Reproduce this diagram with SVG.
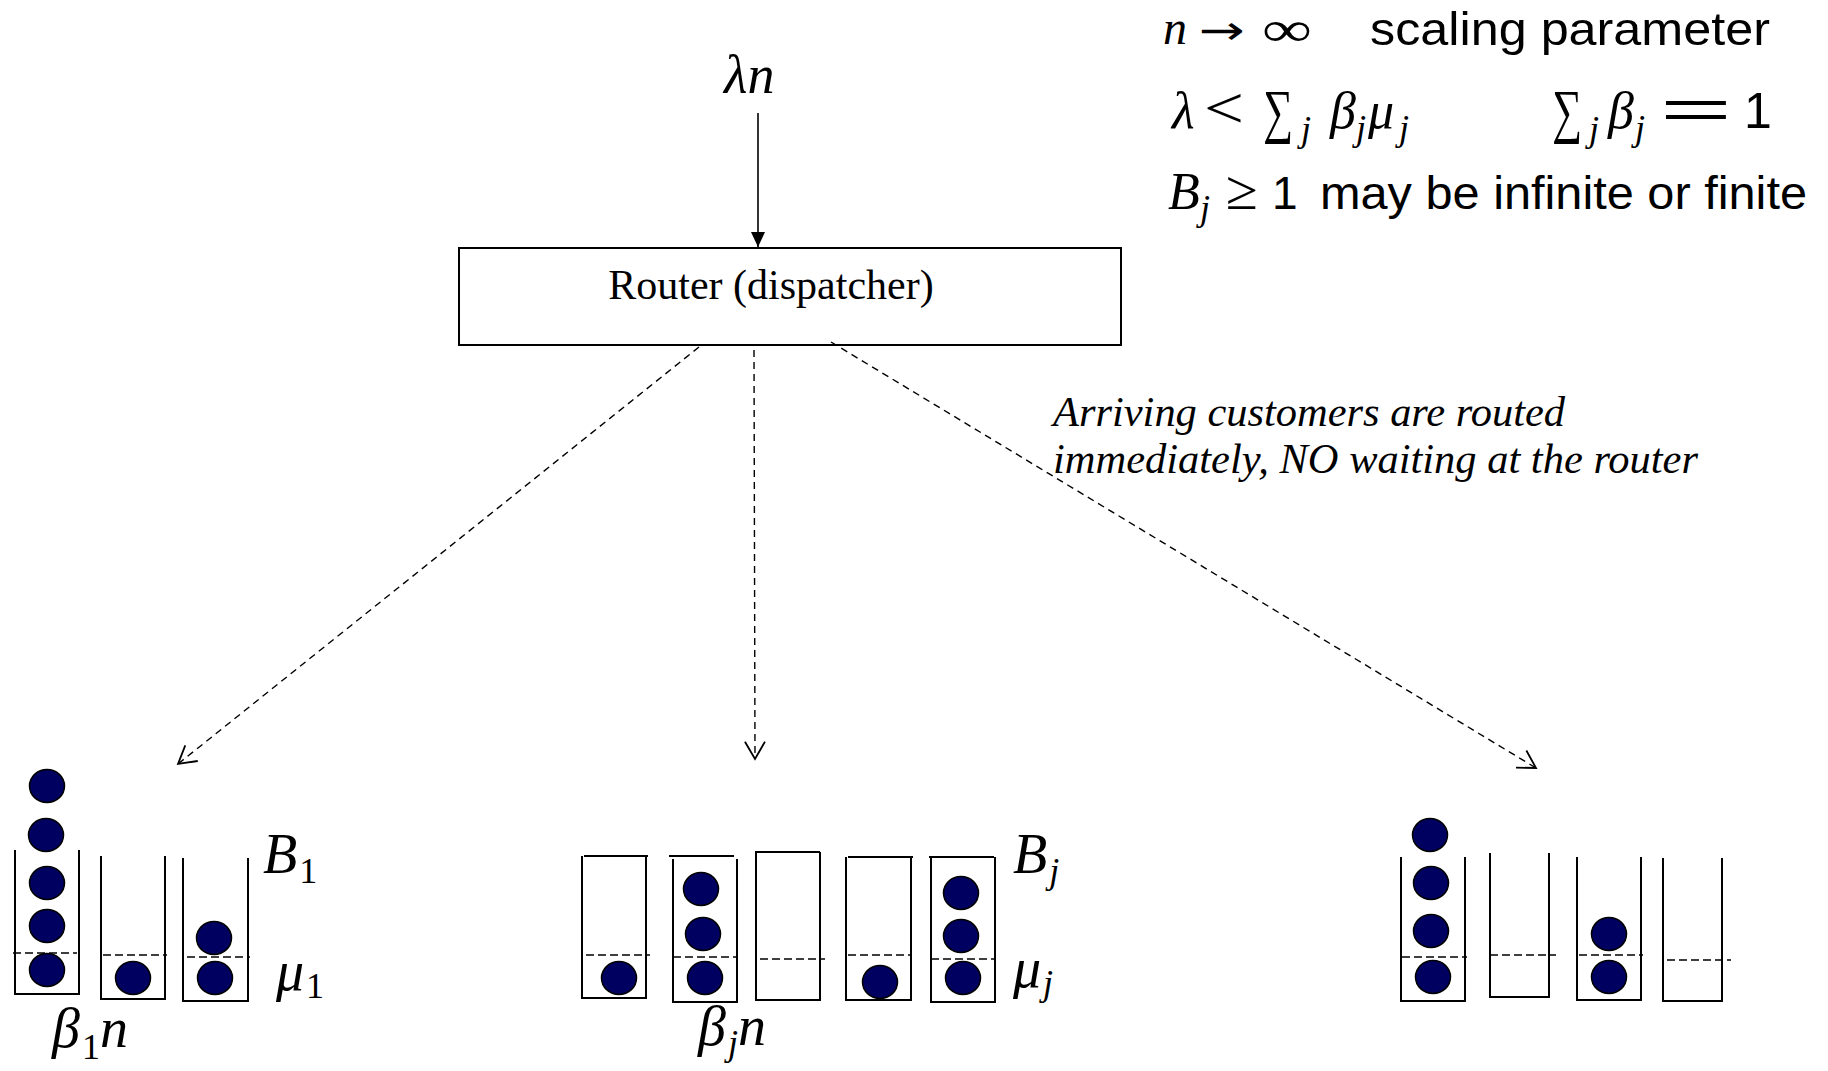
<svg xmlns="http://www.w3.org/2000/svg" width="1828" height="1071" viewBox="0 0 1828 1071">
<style>
.bin{fill:none;stroke:#000;stroke-width:2}
.lvl{fill:none;stroke:#000;stroke-width:1.6;stroke-dasharray:8 4}
.ball{fill:#000060;stroke:#000;stroke-width:1.5}
.m{font-family:"Liberation Serif","DejaVu Serif",serif;font-style:italic;font-size:52px;fill:#000}
.r{font-family:"Liberation Serif","DejaVu Serif",serif;font-style:normal}
.s{font-family:"Liberation Sans","DejaVu Sans",sans-serif;font-style:normal;font-size:46px;fill:#000}
.sub{font-size:36px}
.it{font-family:"Liberation Serif","DejaVu Serif",serif;font-style:italic;font-size:42px;fill:#000}
.conn{fill:none;stroke:#000;stroke-width:1.4;stroke-dasharray:7 5}
</style>
<defs>
<marker id="open" markerUnits="userSpaceOnUse" viewBox="-22 -12 26 24" markerWidth="26" markerHeight="24" refX="0" refY="0" orient="auto">
<path d="M-17.3,-10 L0,0 L-17.3,10" fill="none" stroke="#000" stroke-width="1.8"/>
</marker>
<marker id="solid" markerUnits="userSpaceOnUse" viewBox="-16 -8 17 16" markerWidth="17" markerHeight="16" refX="0" refY="0" orient="auto">
<path d="M-15,-7 L0,0 L-15,7 Z" fill="#000"/>
</marker>
</defs>
<rect width="1828" height="1071" fill="#fff"/>

<g id="labels-top">
<text class="m" x="1163" y="44" style="font-size:48px">n</text>
<text x="1199" y="44" textLength="46" lengthAdjust="spacingAndGlyphs" style="font-family:'DejaVu Sans',sans-serif;font-size:40px">→</text>
<text class="m r" x="1262" y="46" textLength="50" lengthAdjust="spacingAndGlyphs" style="font-size:50px">∞</text>
<text class="s" x="1370" y="45" textLength="400" lengthAdjust="spacingAndGlyphs">scaling parameter</text>

<text class="m" x="1172" y="128">λ</text>
<text class="m r" x="1204" y="128" textLength="40" lengthAdjust="spacingAndGlyphs" style="font-size:60px">&lt;</text>
<text class="m r" x="1263" y="131" textLength="30" lengthAdjust="spacingAndGlyphs" style="font-size:60px">∑</text>
<text class="m sub" x="1301" y="141">j</text>
<text class="m" x="1330" y="128">β</text>
<text class="m sub" x="1356" y="140">j</text>
<text class="m" x="1368" y="128">μ</text>
<text class="m sub" x="1399" y="140">j</text>

<text class="m r" x="1552" y="131" textLength="30" lengthAdjust="spacingAndGlyphs" style="font-size:60px">∑</text>
<text class="m sub" x="1589" y="141">j</text>
<text class="m" x="1608" y="128">β</text>
<text class="m sub" x="1635" y="140">j</text>
<text class="s" x="1660" y="128" textLength="72" lengthAdjust="spacingAndGlyphs" style="font-size:56px">=</text>
<text class="s" x="1744" y="128" style="font-size:50px">1</text>

<text class="m" x="1168" y="209">B</text>
<text class="m sub" x="1200" y="220">j</text>
<text class="m r" x="1226" y="209" textLength="32" lengthAdjust="spacingAndGlyphs" style="font-size:56px">≥</text>
<text class="s" x="1272" y="209">1</text>
<text class="s" x="1320" y="209" textLength="487" lengthAdjust="spacingAndGlyphs">may be infinite or finite</text>
</g>

<g id="source">
<text class="m" x="724" y="93" style="font-size:54px">λn</text>
</g>

<g id="router">
<rect x="459" y="248" width="662" height="97" fill="#fff" stroke="#000" stroke-width="2"/>
<text class="r" x="771" y="299" text-anchor="middle" style="font-size:42px;fill:#000">Router (dispatcher)</text>
</g>

<g id="note">
<text class="it" x="1053" y="426" textLength="512" lengthAdjust="spacingAndGlyphs">Arriving customers are routed</text>
<text class="it" x="1053" y="473" textLength="645" lengthAdjust="spacingAndGlyphs">immediately, NO waiting at the router</text>
</g>

<g id="connectors">
<line x1="758" y1="113" x2="758" y2="247" stroke="#000" stroke-width="1.6" marker-end="url(#solid)"/>
<line class="conn" x1="699" y1="347" x2="178" y2="764" marker-end="url(#open)"/>
<line class="conn" x1="754" y1="350" x2="755" y2="759" marker-end="url(#open)"/>
<line class="conn" x1="831" y1="342" x2="1536" y2="768" marker-end="url(#open)"/>
</g>

<g id="pool1">
<polyline class="bin" points="15,850 15,994 79,994 79,850"/>
<line class="lvl" x1="13" y1="953" x2="77" y2="953"/>
<polyline class="bin" points="101,856 101,999 165,999 165,856"/>
<line class="lvl" x1="103" y1="955" x2="167" y2="955"/>
<polyline class="bin" points="183,858 183,1001 248,1001 248,858"/>
<line class="lvl" x1="187" y1="957" x2="250" y2="957"/>
<ellipse class="ball" cx="47" cy="786" rx="17.5" ry="16.5"/>
<ellipse class="ball" cx="46" cy="835" rx="17.5" ry="16.5"/>
<ellipse class="ball" cx="47" cy="883" rx="17.5" ry="16.5"/>
<ellipse class="ball" cx="47" cy="926" rx="17.5" ry="16.5"/>
<ellipse class="ball" cx="47" cy="970" rx="17.5" ry="16.5"/>
<ellipse class="ball" cx="133" cy="978" rx="17.5" ry="16.5"/>
<ellipse class="ball" cx="214" cy="938" rx="17.5" ry="16.5"/>
<ellipse class="ball" cx="215" cy="978" rx="17.5" ry="16.5"/>
<text class="m" x="263" y="873" style="font-size:56px">B<tspan class="r sub" dy="10" dx="2">1</tspan></text>
<text class="m" x="276" y="990" style="font-size:56px">μ<tspan class="r sub" dy="8" dx="2">1</tspan></text>
<text class="m" x="52" y="1047" style="font-size:56px">β<tspan class="r sub" dy="12" dx="2">1</tspan><tspan dy="-12">n</tspan></text>
</g>

<g id="poolj">
<polyline class="bin" points="582,856 582,998 646,998 646,856"/>
<line class="bin" x1="584" y1="856" x2="648" y2="856"/>
<line class="lvl" x1="586" y1="955" x2="650" y2="955"/>
<polyline class="bin" points="673,859 673,1002 737,1002 737,859"/>
<line class="bin" x1="669" y1="856" x2="734" y2="856"/>
<line class="lvl" x1="673" y1="957" x2="737" y2="957"/>
<polyline class="bin" points="756,852 756,1000 820,1000 820,852"/>
<line class="bin" x1="755" y1="852" x2="820" y2="852"/>
<line class="lvl" x1="760" y1="959" x2="825" y2="959"/>
<polyline class="bin" points="846,857 846,1000 911,1000 911,857"/>
<line class="bin" x1="848" y1="857" x2="913" y2="857"/>
<line class="lvl" x1="848" y1="955" x2="912" y2="955"/>
<polyline class="bin" points="931,857 931,1002 995,1002 995,857"/>
<line class="bin" x1="929" y1="857" x2="994" y2="857"/>
<line class="lvl" x1="931" y1="959" x2="995" y2="959"/>
<ellipse class="ball" cx="619" cy="978" rx="17.5" ry="16.5"/>
<ellipse class="ball" cx="701" cy="889" rx="17.5" ry="16.5"/>
<ellipse class="ball" cx="703" cy="934" rx="17.5" ry="16.5"/>
<ellipse class="ball" cx="705" cy="978" rx="17.5" ry="16.5"/>
<ellipse class="ball" cx="880" cy="982" rx="17.5" ry="16.5"/>
<ellipse class="ball" cx="961" cy="893" rx="17.5" ry="16.5"/>
<ellipse class="ball" cx="961" cy="936" rx="17.5" ry="16.5"/>
<ellipse class="ball" cx="963" cy="978" rx="17.5" ry="16.5"/>
<text class="m" x="1013" y="873" style="font-size:56px">B<tspan class="sub" dy="10" dx="2">j</tspan></text>
<text class="m" x="1013" y="987" style="font-size:56px">μ<tspan class="sub" dy="8" dx="2">j</tspan></text>
<text class="m" x="698" y="1045" style="font-size:56px">β<tspan class="sub" dy="10" dx="2">j</tspan><tspan dy="-10">n</tspan></text>
</g>

<g id="pool3">
<polyline class="bin" points="1401,857 1401,1001 1465,1001 1465,857"/>
<line class="lvl" x1="1402" y1="957" x2="1467" y2="957"/>
<polyline class="bin" points="1490,853 1490,997 1549,997 1549,853"/>
<line class="lvl" x1="1490" y1="955" x2="1556" y2="955"/>
<polyline class="bin" points="1577,857 1577,1000 1641,1000 1641,857"/>
<line class="lvl" x1="1579" y1="955" x2="1643" y2="955"/>
<polyline class="bin" points="1663,858 1663,1001 1722,1001 1722,858"/>
<line class="lvl" x1="1667" y1="960" x2="1731" y2="960"/>
<ellipse class="ball" cx="1430" cy="835" rx="17.5" ry="16.5"/>
<ellipse class="ball" cx="1431" cy="883" rx="17.5" ry="16.5"/>
<ellipse class="ball" cx="1431" cy="931" rx="17.5" ry="16.5"/>
<ellipse class="ball" cx="1433" cy="977" rx="17.5" ry="16.5"/>
<ellipse class="ball" cx="1609" cy="934" rx="17.5" ry="16.5"/>
<ellipse class="ball" cx="1609" cy="977" rx="17.5" ry="16.5"/>
</g>
</svg>
